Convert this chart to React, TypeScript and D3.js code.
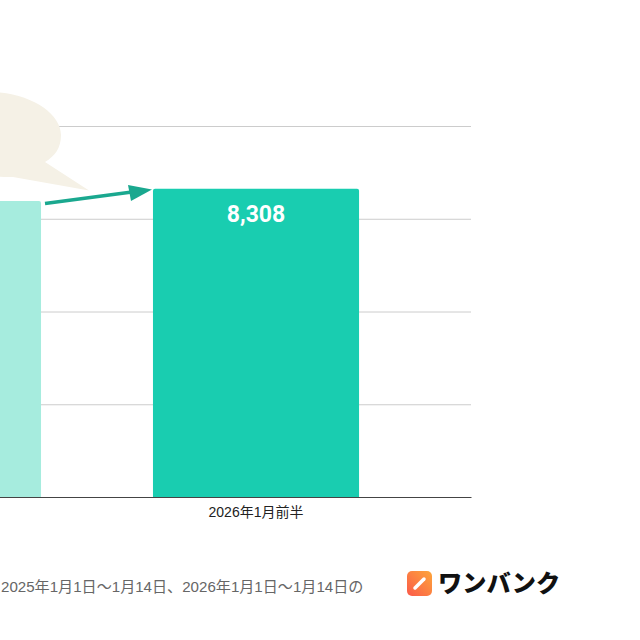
import * as d3 from 'd3';
import React, { useEffect, useRef } from 'react';

const categories = ['2025年1月前半', '2026年1月前半'];
const values = [7980, 8308];
const valueLabels = ['7,980', '8,308'];
const barColors = ['#a6ecde', '#19cdb0'];
const yTicks = [0, 2500, 5000, 7500, 10000];
const footnote = '2025年1月1日〜1月14日、2026年1月1日〜1月14日の';
const brand = 'ワンバンク';

const size = 640;
const sans = '"Liberation Sans", "Noto Sans CJK JP", sans-serif';

export default function App() {
    const ref = useRef<SVGSVGElement>(null);

    useEffect(() => {
        const svg = d3.select(ref.current);
        svg.selectAll('*').remove();

        // the plot runs off the left edge of the picture
        const x = d3.scaleBand().domain(categories).range([-277, 471]).padding(0.352);
        const y = d3.scaleLinear().domain([0, 10000]).range([497, 126]);

        const defs = svg.append('defs');
        const grad = defs
            .append('linearGradient')
            .attr('id', 'logo-grad')
            .attr('x1', 0)
            .attr('y1', 1)
            .attr('x2', 1)
            .attr('y2', 0);
        grad.append('stop').attr('offset', 0).attr('stop-color', '#fb5a4a');
        grad.append('stop').attr('offset', 1).attr('stop-color', '#fda63a');

        // grid
        svg.append('g')
            .selectAll('line')
            .data(yTicks.slice(1))
            .join('line')
            .attr('x1', 0)
            .attr('x2', 471)
            .attr('y1', (d) => y(d) + 0.5)
            .attr('y2', (d) => y(d) + 0.5)
            .attr('stroke', '#cccccc')
            .attr('stroke-width', 1);

        // bars, top corners slightly rounded
        const r = 2;
        svg.append('g')
            .selectAll('path')
            .data(values)
            .join('path')
            .attr('d', (d, i) => {
                const x0 = x(categories[i])!;
                const x1 = x0 + x.bandwidth();
                const top = y(d);
                return `M${x0},${y(0)}V${top + r}Q${x0},${top} ${x0 + r},${top}H${x1 - r}Q${x1},${top} ${x1},${top + r}V${y(0)}Z`;
            })
            .attr('fill', (d, i) => barColors[i]);

        // only the second bar's label falls inside the picture
        svg.append('g')
            .selectAll('text')
            .data(values.slice(1))
            .join('text')
            .attr('x', x(categories[1])! + x.bandwidth() / 2)
            .attr('y', (d) => y(d) + 33)
            .attr('text-anchor', 'middle')
            .attr('fill', '#ffffff')
            .attr('font-family', 'Roboto, sans-serif')
            .attr('font-weight', 700)
            .attr('font-size', 23)
            .text(valueLabels[1]);

        // x axis
        const xAxis = svg
            .append('g')
            .attr('transform', `translate(0,${y(0)})`)
            .call(d3.axisBottom(x).tickSize(0).tickPadding(10));
        xAxis.select('.domain').attr('stroke', '#444444');
        xAxis.selectAll('.tick').filter((d) => d === categories[0]).remove();
        xAxis.selectAll('text').attr('font-family', sans).attr('font-size', 14).attr('fill', '#222222');

        // speech bubble
        svg.append('path')
            .attr('d', 'M-70,135C-70,108 -25,92 0,92.5C35,96 61,115 61,135C61,148 55,156 45,162L89,190.5L13,177C-30,178 -70,165 -70,135Z')
            .attr('fill', '#f5f1e6');

        // arrow between the bars
        svg.append('line')
            .attr('x1', 45)
            .attr('y1', 203.5)
            .attr('x2', 132)
            .attr('y2', 192)
            .attr('stroke', '#1aa88f')
            .attr('stroke-width', 3.5);
        svg.append('path').attr('d', 'M128,185L152,189.5L131,201Z').attr('fill', '#1aa88f');

        // footer
        svg.append('text')
            .attr('x', 1)
            .attr('y', 592)
            .attr('font-family', sans)
            .attr('font-size', 15.1)
            .attr('fill', '#666666')
            .text(footnote);

        // logo
        const logo = svg.append('g');
        logo.append('rect')
            .attr('x', 407)
            .attr('y', 571)
            .attr('width', 25)
            .attr('height', 25)
            .attr('rx', 5)
            .attr('fill', 'url(#logo-grad)');
        logo.append('line')
            .attr('x1', 415)
            .attr('y1', 588)
            .attr('x2', 424)
            .attr('y2', 579)
            .attr('stroke', '#ffffff')
            .attr('stroke-width', 3.5)
            .attr('stroke-linecap', 'round');
        logo.append('text')
            .attr('x', 438)
            .attr('y', 592)
            .attr('font-family', '"Noto Sans CJK JP", sans-serif')
            .attr('font-weight', 900)
            .attr('font-size', 24.2)
            .attr('fill', '#111111')
            .text(brand);
    }, []);

    return (
        <svg
            ref={ref}
            width={size}
            height={size}
            style={{ position: 'absolute', left: 0, top: 0, background: '#ffffff' }}
        ></svg>
    );
}
